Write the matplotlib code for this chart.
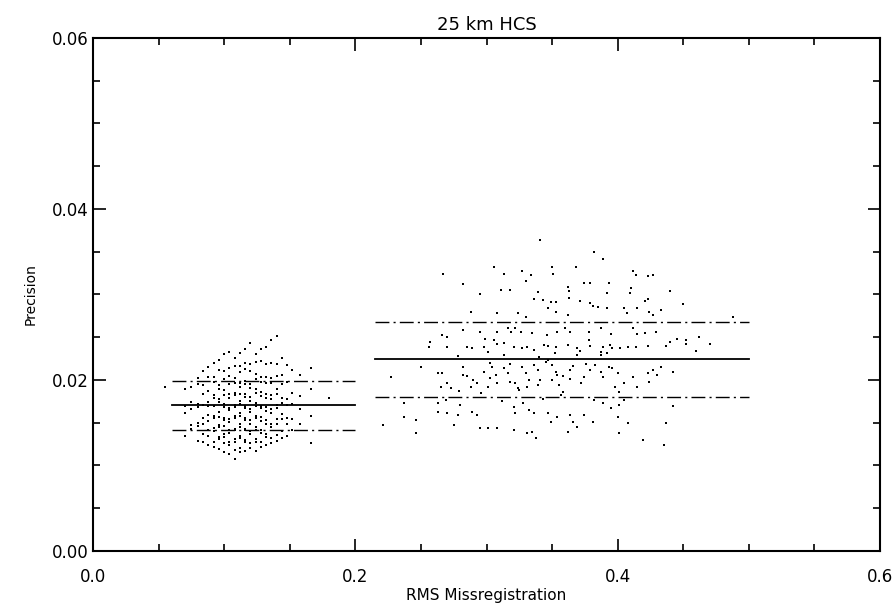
import numpy as np
import matplotlib.pyplot as plt
from matplotlib.ticker import MultipleLocator

# ---- data ----
# left cluster: points fall in narrow vertical columns
left_cols = [0.055, 0.070, 0.075, 0.080, 0.084, 0.088, 0.092, 0.096, 0.100, 0.104,
             0.108, 0.112, 0.116, 0.120, 0.124, 0.128, 0.132, 0.136, 0.140,
             0.144, 0.148, 0.152, 0.158, 0.166, 0.180]
left_y = [
    [0.0192],
    [0.0134, 0.0161, 0.0169, 0.0189],
    [0.0143, 0.0147, 0.0166, 0.0174, 0.0192],
    [0.0129, 0.0146, 0.0150, 0.0168, 0.0172, 0.0195, 0.0202],
    [0.0128, 0.0137, 0.0149, 0.0155, 0.0171, 0.0184, 0.0194, 0.0211],
    [0.0124, 0.0134, 0.0141, 0.0152, 0.0159, 0.0170, 0.0174, 0.0187, 0.0203, 0.0215],
    [0.0122, 0.0127, 0.0140, 0.0144, 0.0156, 0.0158, 0.0169, 0.0179, 0.0182,
     0.0198, 0.0203, 0.0220],
    [0.0119, 0.0131, 0.0133, 0.0145, 0.0147, 0.0157, 0.0162, 0.0174, 0.0178,
     0.0190, 0.0194, 0.0212, 0.0223],
    [0.0116, 0.0126, 0.0133, 0.0137, 0.0146, 0.0153, 0.0156, 0.0168, 0.0172,
     0.0183, 0.0188, 0.0201, 0.0210, 0.0230],
    [0.0113, 0.0124, 0.0127, 0.0138, 0.0141, 0.0151, 0.0154, 0.0165, 0.0167,
     0.0179, 0.0184, 0.0195, 0.0205, 0.0214, 0.0233],
    [0.0108, 0.0118, 0.0128, 0.0131, 0.0141, 0.0143, 0.0155, 0.0158, 0.0168,
     0.0171, 0.0182, 0.0185, 0.0197, 0.0202, 0.0216, 0.0226],
    [0.0116, 0.0121, 0.0132, 0.0135, 0.0145, 0.0148, 0.0158, 0.0161, 0.0172,
     0.0175, 0.0184, 0.0192, 0.0196, 0.0209, 0.0216, 0.0231],
    [0.0117, 0.0127, 0.0130, 0.0141, 0.0143, 0.0153, 0.0156, 0.0167, 0.0169,
     0.0180, 0.0184, 0.0195, 0.0199, 0.0213, 0.0220, 0.0236],
    [0.0121, 0.0126, 0.0137, 0.0140, 0.0149, 0.0153, 0.0163, 0.0166, 0.0176,
     0.0180, 0.0191, 0.0195, 0.0210, 0.0219, 0.0243],
    [0.0117, 0.0128, 0.0131, 0.0142, 0.0145, 0.0156, 0.0158, 0.0169, 0.0173,
     0.0185, 0.0189, 0.0201, 0.0207, 0.0221, 0.0230],
    [0.0122, 0.0127, 0.0138, 0.0142, 0.0152, 0.0157, 0.0167, 0.0170, 0.0181,
     0.0186, 0.0198, 0.0204, 0.0222, 0.0236],
    [0.0124, 0.0133, 0.0137, 0.0148, 0.0153, 0.0164, 0.0168, 0.0179, 0.0184,
     0.0197, 0.0203, 0.0219, 0.0239],
    [0.0126, 0.0132, 0.0145, 0.0149, 0.0161, 0.0166, 0.0178, 0.0183, 0.0196,
     0.0202, 0.0220, 0.0247],
    [0.0129, 0.0136, 0.0149, 0.0154, 0.0167, 0.0171, 0.0184, 0.0190, 0.0205,
     0.0219, 0.0251],
    [0.0132, 0.0140, 0.0154, 0.0160, 0.0173, 0.0179, 0.0195, 0.0206, 0.0226],
    [0.0135, 0.0149, 0.0156, 0.0171, 0.0178, 0.0198, 0.0217],
    [0.0142, 0.0154, 0.0172, 0.0185, 0.0212],
    [0.0149, 0.0166, 0.0181, 0.0206],
    [0.0126, 0.0158, 0.0189, 0.0214],
    [0.0179],
]

# right cluster: scattered points
right_x = [
    0.341, 0.382, 0.389, 0.267, 0.306, 0.313, 0.327, 0.334, 0.330, 0.350,
    0.351, 0.368, 0.282, 0.295, 0.311, 0.318, 0.339, 0.362, 0.363, 0.374,
    0.379, 0.393, 0.392, 0.412, 0.414, 0.423, 0.427, 0.410, 0.409, 0.440,
    0.450, 0.336, 0.343, 0.349, 0.353, 0.363, 0.371, 0.379, 0.381, 0.385,
    0.392, 0.405, 0.407, 0.415, 0.421, 0.423, 0.424, 0.433, 0.427, 0.288,
    0.308, 0.324, 0.330, 0.347, 0.353, 0.362, 0.488,
    0.266, 0.270, 0.282, 0.295, 0.308, 0.316, 0.319, 0.322, 0.326, 0.335,
    0.346, 0.354, 0.360, 0.364, 0.378, 0.387, 0.395, 0.412, 0.415, 0.421,
    0.429, 0.257, 0.256, 0.270, 0.285, 0.289, 0.298, 0.299, 0.306, 0.308,
    0.313, 0.321, 0.327, 0.331, 0.336, 0.344, 0.347, 0.353, 0.362, 0.369,
    0.371, 0.378, 0.379, 0.387, 0.389, 0.394, 0.396, 0.392, 0.402, 0.408,
    0.414, 0.423, 0.437, 0.440, 0.445, 0.452, 0.452, 0.462, 0.470, 0.460,
    0.313, 0.340, 0.369, 0.387, 0.352, 0.301, 0.278,
    0.250, 0.227, 0.263, 0.266, 0.270, 0.265, 0.273, 0.282, 0.282, 0.285,
    0.290, 0.293, 0.288, 0.298, 0.303, 0.304, 0.303, 0.307, 0.308, 0.301,
    0.313, 0.316, 0.318, 0.322, 0.324, 0.327, 0.330, 0.332, 0.331, 0.336,
    0.339, 0.341, 0.339, 0.347, 0.350, 0.353, 0.354, 0.358, 0.350, 0.355,
    0.364, 0.366, 0.364, 0.372, 0.374, 0.379, 0.383, 0.387, 0.389, 0.393,
    0.396, 0.400, 0.398, 0.405, 0.412, 0.415, 0.423, 0.424, 0.427, 0.430,
    0.433, 0.442, 0.318, 0.345, 0.376, 0.296, 0.358, 0.401, 0.279, 0.325,
    0.237, 0.263, 0.269, 0.280, 0.263, 0.270, 0.278, 0.289, 0.293, 0.237,
    0.246, 0.221, 0.275, 0.246, 0.295, 0.301, 0.308, 0.321, 0.331, 0.335,
    0.338, 0.321, 0.322, 0.328, 0.332, 0.336, 0.347, 0.349, 0.354, 0.364,
    0.366, 0.369, 0.374, 0.381, 0.382, 0.389, 0.395, 0.401, 0.405, 0.408,
    0.401, 0.419, 0.435, 0.437, 0.442, 0.362, 0.400, 0.343, 0.312, 0.357,
]
right_y = [
    0.0364, 0.0350, 0.0342, 0.0324, 0.0332, 0.0324, 0.0328, 0.0323, 0.0316, 0.0332,
    0.0324, 0.0332, 0.0312, 0.0301, 0.0305, 0.0305, 0.0303, 0.0309, 0.0304, 0.0313,
    0.0313, 0.0313, 0.0302, 0.0328, 0.0323, 0.0322, 0.0323, 0.0308, 0.0302, 0.0304,
    0.0289, 0.0295, 0.0294, 0.0291, 0.0291, 0.0296, 0.0292, 0.0290, 0.0287, 0.0285,
    0.0284, 0.0284, 0.0278, 0.0284, 0.0292, 0.0295, 0.0280, 0.0282, 0.0276, 0.0280,
    0.0278, 0.0278, 0.0274, 0.0284, 0.0280, 0.0276, 0.0274,
    0.0253, 0.0250, 0.0258, 0.0256, 0.0256, 0.0261, 0.0256, 0.0261, 0.0256, 0.0255,
    0.0253, 0.0256, 0.0261, 0.0256, 0.0256, 0.0261, 0.0254, 0.0261, 0.0254, 0.0255,
    0.0256, 0.0244, 0.0239, 0.0239, 0.0239, 0.0237, 0.0239, 0.0248, 0.0247, 0.0242,
    0.0243, 0.0239, 0.0237, 0.0239, 0.0235, 0.0241, 0.0240, 0.0239, 0.0241, 0.0237,
    0.0234, 0.0247, 0.0240, 0.0233, 0.0239, 0.0241, 0.0237, 0.0232, 0.0237, 0.0239,
    0.0239, 0.0240, 0.0240, 0.0244, 0.0248, 0.0247, 0.0242, 0.0250, 0.0242, 0.0234,
    0.0229, 0.0227, 0.0229, 0.0229, 0.0231, 0.0233, 0.0228,
    0.0215, 0.0204, 0.0208, 0.0208, 0.0196, 0.0192, 0.0191, 0.0215, 0.0206, 0.0205,
    0.0200, 0.0196, 0.0192, 0.0209, 0.0220, 0.0215, 0.0202, 0.0206, 0.0196, 0.0192,
    0.0214, 0.0208, 0.0198, 0.0196, 0.0191, 0.0215, 0.0208, 0.0200, 0.0192, 0.0218,
    0.0212, 0.0200, 0.0194, 0.0223, 0.0218, 0.0209, 0.0206, 0.0205, 0.0200, 0.0194,
    0.0212, 0.0216, 0.0201, 0.0196, 0.0204, 0.0212, 0.0218, 0.0209, 0.0204, 0.0215,
    0.0214, 0.0208, 0.0192, 0.0196, 0.0204, 0.0192, 0.0208, 0.0198, 0.0212, 0.0206,
    0.0215, 0.0209, 0.0219, 0.0221, 0.0219, 0.0185, 0.0186, 0.0186, 0.0187, 0.0188,
    0.0173, 0.0173, 0.0177, 0.0171, 0.0163, 0.0161, 0.0159, 0.0163, 0.0159, 0.0157,
    0.0153, 0.0147, 0.0147, 0.0138, 0.0144, 0.0144, 0.0144, 0.0142, 0.0138, 0.0139,
    0.0132, 0.0168, 0.0161, 0.0173, 0.0165, 0.0161, 0.0161, 0.0151, 0.0157, 0.0159,
    0.0151, 0.0145, 0.0159, 0.0151, 0.0177, 0.0173, 0.0167, 0.0171, 0.0177, 0.0150,
    0.0138, 0.0130, 0.0124, 0.0150, 0.0170, 0.0139, 0.0157, 0.0178, 0.0176, 0.0183,
]

# mean and +/- one sigma lines for each cluster
left_span = (0.06, 0.20)
left_mean, left_lo, left_hi = 0.0171, 0.01415, 0.0199
right_span = (0.215, 0.50)
right_mean, right_lo, right_hi = 0.02245, 0.0180, 0.0268

# ---- figure ----
plt.rcParams['font.family'] = ['DejaVu Sans']
fig = plt.figure(figsize=(8.96, 6.07), dpi=100)
ax = fig.add_axes([0.1038, 0.0923, 0.8784, 0.8451])

lx = [c for c, ys in zip(left_cols, left_y) for _ in ys]
ly = [y for ys in left_y for y in ys]
ax.scatter(lx, ly, s=1.8, marker='s', color='black', linewidths=0)
ax.scatter(right_x, right_y, s=1.8, marker='s', color='black', linewidths=0)

dashdot = (0, (10, 3, 1.5, 3))
for span, m, lo, hi in [(left_span, left_mean, left_lo, left_hi),
                        (right_span, right_mean, right_lo, right_hi)]:
    ax.plot(span, [m, m], color='black', lw=1.3)
    ax.plot(span, [lo, lo], color='black', lw=1.0, linestyle=dashdot)
    ax.plot(span, [hi, hi], color='black', lw=1.0, linestyle=dashdot)

ax.set_xlim(0.0, 0.6)
ax.set_ylim(0.0, 0.06)
ax.xaxis.set_major_locator(MultipleLocator(0.2))
ax.xaxis.set_minor_locator(MultipleLocator(0.05))
ax.yaxis.set_major_locator(MultipleLocator(0.02))
ax.yaxis.set_minor_locator(MultipleLocator(0.005))
ax.set_xticklabels([f'{v:.1f}' for v in ax.get_xticks()])
ax.set_yticklabels([f'{v:.2f}' for v in ax.get_yticks()])

ax.tick_params(which='both', direction='in', top=True, right=True,
               color='black', width=1.2)
ax.tick_params(which='major', length=9)
ax.tick_params(which='minor', length=5)
ax.tick_params(axis='x', which='major', pad=12, labelsize=12)
ax.tick_params(axis='y', which='major', pad=3, labelsize=12)
for s in ax.spines.values():
    s.set_linewidth(1.5)

ax.set_title('25 km HCS', fontsize=13, pad=6)
ax.set_xlabel('RMS Missregistration', fontsize=11, labelpad=2)
ax.set_ylabel('Precision', fontsize=10, labelpad=10)

fig.savefig('out.png', dpi=100)
